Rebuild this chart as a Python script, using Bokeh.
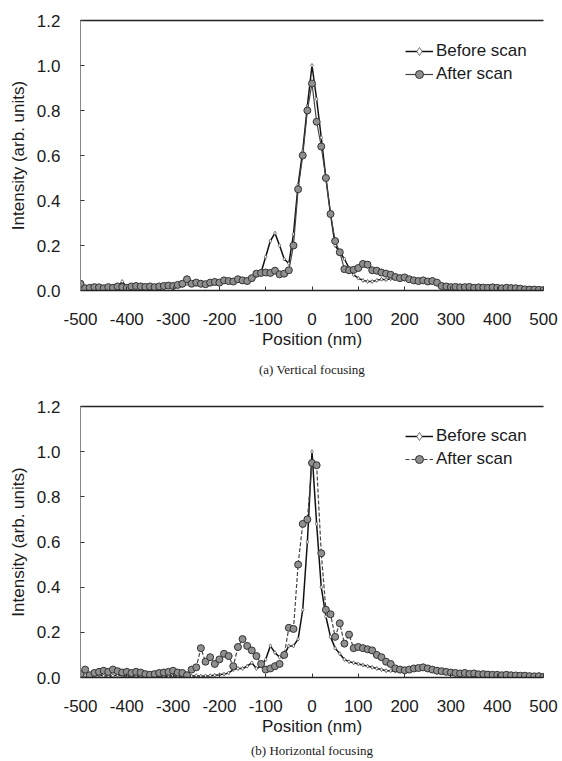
from bokeh.plotting import figure
from bokeh.models import (Range1d, FixedTicker, LinearAxis, Legend, LegendItem, Title)
from bokeh.layouts import column
from bokeh.embed import file_html
from bokeh.resources import INLINE

# ---------------- data ----------------
position_nm = list(range(-500, 501, 10))

x_ticks = [-500, -400, -300, -200, -100, 0, 100, 200, 300, 400, 500]
x_tick_labels = ["-500", "-400", "-300", "-200", "-100", "0", "100", "200", "300", "400", "500"]
y_ticks = [0.0, 0.2, 0.4, 0.6, 0.8, 1.0, 1.2]
y_tick_labels = ["0.0", "0.2", "0.4", "0.6", "0.8", "1.0", "1.2"]

series_names = ["Before scan", "After scan"]
captions = ["(a) Vertical focusing", "(b) Horizontal focusing"]

vertical_before = [
    0.020, 0.012, 0.010, 0.012, 0.010, 0.012, 0.010, 0.015, 0.012, 0.040,
    0.015, 0.010, 0.012, 0.010, 0.012, 0.014, 0.012, 0.015, 0.016, 0.018,
    0.018, 0.020, 0.022, 0.030, 0.025, 0.028, 0.025, 0.030, 0.032, 0.035,
    0.032, 0.038, 0.040, 0.038, 0.045, 0.042, 0.045, 0.050, 0.065, 0.080,
    0.150, 0.220, 0.255, 0.200, 0.140, 0.120, 0.250, 0.470, 0.620, 0.820,
    1.000, 0.850, 0.680, 0.500, 0.340, 0.200, 0.170, 0.140, 0.100, 0.070,
    0.055, 0.045, 0.040, 0.040, 0.045, 0.050, 0.048, 0.052, 0.055, 0.050,
    0.052, 0.048, 0.045, 0.040, 0.042, 0.038, 0.040, 0.032, 0.020, 0.016,
    0.014, 0.015, 0.013, 0.014, 0.015, 0.012, 0.013, 0.012, 0.011, 0.012,
    0.010, 0.010, 0.011, 0.010, 0.009, 0.007, 0.005, 0.004, 0.003, 0.003,
    0.002]

vertical_after = [
    0.030, 0.010, 0.012, 0.015, 0.014, 0.010, 0.015, 0.012, 0.018, 0.015,
    0.012, 0.018, 0.020, 0.018, 0.016, 0.018, 0.015, 0.018, 0.020, 0.022,
    0.020, 0.025, 0.030, 0.050, 0.030, 0.035, 0.030, 0.028, 0.035, 0.038,
    0.035, 0.045, 0.042, 0.040, 0.050, 0.045, 0.042, 0.055, 0.075, 0.078,
    0.080, 0.078, 0.088, 0.072, 0.075, 0.090, 0.200, 0.450, 0.600, 0.800,
    0.920, 0.750, 0.640, 0.500, 0.340, 0.220, 0.170, 0.095, 0.090, 0.092,
    0.100, 0.118, 0.115, 0.090, 0.088, 0.080, 0.075, 0.070, 0.060, 0.055,
    0.058, 0.050, 0.045, 0.042, 0.045, 0.040, 0.042, 0.035, 0.020, 0.018,
    0.015, 0.016, 0.014, 0.015, 0.016, 0.012, 0.014, 0.013, 0.012, 0.014,
    0.012, 0.010, 0.012, 0.011, 0.010, 0.008, 0.005, 0.004, 0.004, 0.003,
    0.002]

horizontal_before = [
    0.008, 0.010, 0.006, 0.008, 0.010, 0.008, 0.006, 0.008, 0.010, 0.008,
    0.006, 0.008, 0.007, 0.006, 0.008, 0.006, 0.007, 0.008, 0.006, 0.007,
    0.008, 0.006, 0.008, 0.007, 0.006, 0.008, 0.006, 0.007, 0.008, 0.010,
    0.012, 0.015, 0.020, 0.035, 0.040, 0.040, 0.050, 0.065, 0.040, 0.050,
    0.080, 0.140, 0.110, 0.090, 0.100, 0.140, 0.140, 0.170, 0.300, 0.600,
    1.000, 0.680, 0.400, 0.270, 0.180, 0.130, 0.105, 0.080, 0.070, 0.065,
    0.060, 0.055, 0.050, 0.045, 0.040, 0.035, 0.030, 0.030, 0.028, 0.030,
    0.035, 0.038, 0.040, 0.042, 0.040, 0.036, 0.032, 0.028, 0.025, 0.022,
    0.020, 0.018, 0.016, 0.017, 0.015, 0.014, 0.013, 0.012, 0.012, 0.011,
    0.010, 0.010, 0.009, 0.008, 0.008, 0.007, 0.006, 0.005, 0.005, 0.004,
    0.003]

horizontal_after = [
    0.015, 0.035, 0.010, 0.020, 0.025, 0.030, 0.025, 0.035, 0.028, 0.022,
    0.025, 0.020, 0.025, 0.022, 0.015, 0.012, 0.015, 0.020, 0.022, 0.025,
    0.030, 0.022, 0.020, 0.010, 0.035, 0.045, 0.130, 0.070, 0.090, 0.060,
    0.080, 0.105, 0.095, 0.050, 0.135, 0.170, 0.140, 0.120, 0.095, 0.060,
    0.035, 0.040, 0.050, 0.060, 0.100, 0.220, 0.215, 0.500, 0.680, 0.700,
    0.950, 0.940, 0.550, 0.300, 0.280, 0.180, 0.240, 0.150, 0.190, 0.130,
    0.135, 0.130, 0.125, 0.120, 0.100, 0.090, 0.070, 0.060, 0.040, 0.035,
    0.032, 0.035, 0.040, 0.042, 0.045, 0.040, 0.035, 0.030, 0.028, 0.025,
    0.022, 0.020, 0.018, 0.020, 0.016, 0.018, 0.014, 0.015, 0.013, 0.012,
    0.012, 0.010, 0.012, 0.010, 0.009, 0.008, 0.008, 0.006, 0.005, 0.006,
    0.003]

SANS = "Liberation Sans"
SERIF = "Liberation Serif"


def make_panel(before, after, caption, after_dash, height, border_top,
               border_bottom, cap_standoff, legend_y):
    p = figure(width=562, height=height, output_backend="svg",
               toolbar_location=None,
               x_range=Range1d(-500, 500), y_range=Range1d(0, 1.2),
               min_border_left=80, min_border_right=19,
               min_border_top=border_top, min_border_bottom=border_bottom,
               x_axis_label="Position (nm)",
               y_axis_label="Intensity (arb. units)")
    p.grid.visible = False
    p.outline_line_color = None
    p.background_fill_color = "white"

    # axes
    p.xaxis.ticker = FixedTicker(ticks=x_ticks)
    p.xaxis.major_label_overrides = dict(zip(x_ticks, x_tick_labels))
    p.yaxis.ticker = FixedTicker(ticks=y_ticks)
    p.yaxis.major_label_overrides = dict(zip(y_ticks, y_tick_labels))
    for ax in (p.xaxis, p.yaxis):
        ax.major_tick_in = 4
        ax.major_tick_out = 0
        ax.minor_tick_line_color = None
        ax.major_label_text_font = SANS
        ax.major_label_text_font_size = "17px"
        ax.major_label_text_color = "#1a1a1a"
        ax.axis_label_text_font = SANS
        ax.axis_label_text_font_size = "17px"
        ax.axis_label_text_font_style = "normal"
        ax.axis_label_text_color = "#1a1a1a"
        ax.major_tick_line_color = "#333333"
    p.xaxis.major_label_standoff = 22
    p.yaxis.major_label_standoff = 20
    p.xaxis.axis_line_color = "#222222"
    p.xaxis.axis_line_width = 1.5
    p.xaxis.axis_label_standoff = 2
    p.yaxis.axis_line_color = "#888888"
    p.yaxis.axis_line_width = 1
    p.yaxis.axis_label_standoff = 6

    # top border line
    top = LinearAxis(ticker=FixedTicker(ticks=[]), major_tick_in=0,
                     major_tick_out=0, minor_tick_line_color=None,
                     axis_line_color="#222222", axis_line_width=1.5,
                     major_label_text_font_size="0px")
    p.add_layout(top, "above")

    # series
    lb = p.line(position_nm, before, line_color="#111111", line_width=1.5)
    sb = p.scatter(position_nm, before, marker="diamond", size=4,
                   fill_color="white", line_color="#555555", line_width=0.8)
    la = p.line(position_nm, after, line_color="#444444", line_width=1.2,
                line_dash=after_dash)
    sa = p.scatter(position_nm, after, marker="circle", size=7,
                   fill_color="#8f8f8f", line_color="#333333", line_width=1)

    legend = Legend(items=[LegendItem(label=series_names[0], renderers=[lb, sb]),
                           LegendItem(label=series_names[1], renderers=[la, sa])],
                    location=(325, legend_y), padding=0, margin=0, spacing=3,
                    glyph_width=28, glyph_height=20, label_standoff=3,
                    label_text_font=SANS, label_text_font_size="17px",
                    label_text_color="#1a1a1a",
                    border_line_color=None, background_fill_alpha=0)
    p.add_layout(legend)

    cap = Title(text=caption, align="center", text_font=SERIF,
                text_font_size="13px", text_font_style="normal",
                text_color="#1a1a1a", standoff=cap_standoff)
    p.add_layout(cap, "below")
    return p


p1 = make_panel(vertical_before, vertical_after, captions[0], "solid",
                386, 20, 96, 16, 206)
p2 = make_panel(horizontal_before, horizontal_after, captions[1], "4 2",
                375, 20, 84, 4, 208)

layout = column(p1, p2, spacing=0)
open("out.html", "w").write(file_html(layout, INLINE))
